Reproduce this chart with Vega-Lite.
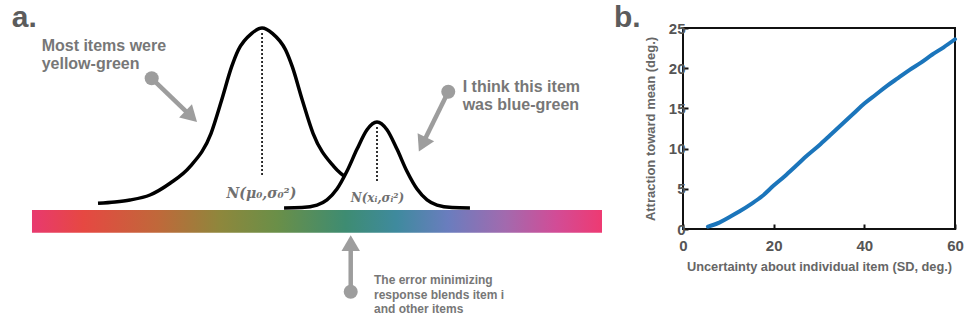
{
  "$schema": "https://vega.github.io/schema/vega-lite/v6.json",
  "padding": {"left": 0, "right": 0, "top": 3, "bottom": 0},
  "spacing": 2,
  "bounds": "full",
  "background": "white",
  "config": {"font": "Liberation Sans"},
  "datasets": {
    "big": [
      {"u": 41.7, "y": 6.7}, {"u": 52.4, "y": 8}, {"u": 61.9, "y": 10}, {"u": 74.5, "y": 15},
      {"u": 87.2, "y": 26.7}, {"u": 99.8, "y": 43.3}, {"u": 113.1, "y": 76.7}, {"u": 119.8, "y": 110},
      {"u": 126.1, "y": 143.3}, {"u": 130.3, "y": 160}, {"u": 138.8, "y": 176.7}, {"u": 145.3, "y": 182},
      {"u": 151.8, "y": 176.7}, {"u": 160.2, "y": 160}, {"u": 164.4, "y": 143.3}, {"u": 170.7, "y": 110},
      {"u": 177.5, "y": 76.7}, {"u": 190.7, "y": 43.3}, {"u": 203.4, "y": 26.7}, {"u": 216.0, "y": 15},
      {"u": 228.6, "y": 10}, {"u": 238.1, "y": 8}, {"u": 248.8, "y": 6.7}
    ],
    "small": [
      {"u": 159.2, "y": 2.0}, {"u": 170.5, "y": 2.4}, {"u": 180.0, "y": 4.9}, {"u": 186.3, "y": 10.1},
      {"u": 192.6, "y": 20.9}, {"u": 198.9, "y": 38.7}, {"u": 205.3, "y": 60.9}, {"u": 211.6, "y": 80.3},
      {"u": 217.9, "y": 88}, {"u": 224.2, "y": 80.3}, {"u": 230.5, "y": 60.9}, {"u": 236.8, "y": 38.7},
      {"u": 243.2, "y": 20.9}, {"u": 249.5, "y": 10.1}, {"u": 255.8, "y": 4.9}, {"u": 265.3, "y": 2.4},
      {"u": 276.6, "y": 2.0}
    ],
    "peaks": [
      {"u": 145.3, "y": 177, "y2": 33},
      {"u": 217.9, "y": 83, "y2": 28}
    ],
    "arrows": [
      {"id": "a1", "u": 75.6, "y": 131.7, "u2": 99.4, "y2": 95.4},
      {"id": "a2", "u": 262.9, "y": 118.3, "u2": 247.3, "y2": 68},
      {"id": "a3", "u": 201.3, "y": -81.7, "u2": 201.3, "y2": -35.8}
    ],
    "bar": [{"u": 0, "u2": 360, "y": 0, "y2": -22.7}],
    "labels": [
      {"id": "a", "u": -12.8, "y": 183, "text": "a."},
      {"id": "b", "u": 367.6, "y": 183, "text": "b."},
      {"id": "most", "u": 6.1, "y": 159.3, "text": "Most items were\nyellow-green"},
      {"id": "think", "u": 272.0, "y": 118.3, "text": "I think this item\nwas blue-green"},
      {"id": "error", "u": 216.0, "y": -74, "text": "The error minimizing\nresponse blends item i\nand other items"},
      {"id": "n0", "u": 144.9, "y": 12, "text": "N(μ₀,σ₀²)"},
      {"id": "ni", "u": 218.2, "y": 8, "text": "N(xᵢ,σᵢ²)"}
    ],
    "attraction": [
      {"sd": 5.5, "att": 0.3}, {"sd": 8, "att": 0.8}, {"sd": 10, "att": 1.4}, {"sd": 12.5, "att": 2.2},
      {"sd": 15, "att": 3.1}, {"sd": 17.5, "att": 4.1}, {"sd": 20, "att": 5.4}, {"sd": 22.5, "att": 6.6},
      {"sd": 25, "att": 7.9}, {"sd": 27.5, "att": 9.2}, {"sd": 30, "att": 10.4}, {"sd": 32.5, "att": 11.7},
      {"sd": 35, "att": 13.0}, {"sd": 37.5, "att": 14.3}, {"sd": 40, "att": 15.6}, {"sd": 42.5, "att": 16.7},
      {"sd": 45, "att": 17.8}, {"sd": 47.5, "att": 18.8}, {"sd": 50, "att": 19.8}, {"sd": 52.5, "att": 20.7},
      {"sd": 55, "att": 21.7}, {"sd": 57.5, "att": 22.6}, {"sd": 60, "att": 23.6}
    ]
  },
  "hconcat": [
    {
      "width": 640,
      "height": 294,
      "view": {"stroke": null},
      "encoding": {
        "x": {"field": "u", "type": "quantitative", "scale": {"domain": [-20.2, 384.0], "nice": false, "zero": false}, "axis": null},
        "y": {"field": "y", "type": "quantitative", "scale": {"domain": [-112, 182], "nice": false, "zero": false}, "axis": null}
      },
      "layer": [
        {
          "data": {"name": "bar"},
          "mark": {"type": "rect", "color": {"gradient": "linear", "x1": 0, "x2": 1, "y1": 0, "y2": 0, "stops": [
            {"offset": 0, "color": "#e8396f"},
            {"offset": 0.09, "color": "#e64842"},
            {"offset": 0.22, "color": "#c0683a"},
            {"offset": 0.33, "color": "#8e873c"},
            {"offset": 0.43, "color": "#6a8f48"},
            {"offset": 0.55, "color": "#3e8c72"},
            {"offset": 0.64, "color": "#3f8a9e"},
            {"offset": 0.73, "color": "#6a7dbe"},
            {"offset": 0.83, "color": "#a26aae"},
            {"offset": 0.92, "color": "#d24c96"},
            {"offset": 1, "color": "#ee3a72"}
          ]}},
          "encoding": {"x2": {"field": "u2"}, "y2": {"field": "y2"}}
        },
        {
          "data": {"name": "big"},
          "mark": {"type": "line", "color": "black", "strokeWidth": 3.5, "interpolate": "monotone"},
          "encoding": {"order": {"field": "u"}}
        },
        {
          "data": {"name": "small"},
          "mark": {"type": "area", "color": "white", "interpolate": "monotone"},
          "encoding": {"y2": {"datum": 0}}
        },
        {
          "data": {"name": "small"},
          "mark": {"type": "line", "color": "black", "strokeWidth": 3.5, "interpolate": "monotone"},
          "encoding": {"order": {"field": "u"}}
        },
        {
          "data": {"name": "peaks"},
          "mark": {"type": "rule", "color": "black", "strokeWidth": 1.6, "strokeDash": [2, 2]},
          "encoding": {"y2": {"field": "y2"}}
        },
        {
          "data": {"name": "arrows"},
          "mark": {"type": "rule", "color": "#9d9d9d", "strokeWidth": 4.5},
          "encoding": {"x2": {"field": "u2"}, "y2": {"field": "y2"}}
        },
        {
          "data": {"name": "arrows"},
          "mark": {"type": "point", "shape": "circle", "filled": true, "color": "#9d9d9d", "size": 196, "opacity": 1},
          "encoding": {}
        },
        {
          "data": {"name": "arrows"},
          "transform": [{"filter": "datum.id == 'a1'"}],
          "mark": {"type": "point", "shape": "triangle", "filled": true, "color": "#9d9d9d", "size": 340, "angle": 134, "opacity": 1},
          "encoding": {"x": {"field": "u2", "type": "quantitative"}, "y": {"field": "y2", "type": "quantitative"}}
        },
        {
          "data": {"name": "arrows"},
          "transform": [{"filter": "datum.id == 'a2'"}],
          "mark": {"type": "point", "shape": "triangle", "filled": true, "color": "#9d9d9d", "size": 340, "angle": 206, "opacity": 1},
          "encoding": {"x": {"field": "u2", "type": "quantitative"}, "y": {"field": "y2", "type": "quantitative"}}
        },
        {
          "data": {"name": "arrows"},
          "transform": [{"filter": "datum.id == 'a3'"}],
          "mark": {"type": "point", "shape": "triangle", "filled": true, "color": "#9d9d9d", "size": 340, "angle": 0, "opacity": 1},
          "encoding": {"x": {"field": "u2", "type": "quantitative"}, "y": {"field": "y2", "type": "quantitative"}}
        },
        {
          "data": {"name": "labels"},
          "transform": [{"filter": "datum.id == 'a' || datum.id == 'b'"}],
          "mark": {"type": "text", "align": "left", "baseline": "alphabetic", "fontSize": 30, "fontWeight": "bold", "color": "#5c5c5c"},
          "encoding": {"text": {"field": "text"}}
        },
        {
          "data": {"name": "labels"},
          "transform": [{"filter": "datum.id == 'most' || datum.id == 'think'"}],
          "mark": {"type": "text", "align": "left", "baseline": "alphabetic", "fontSize": 16, "fontWeight": "bold", "color": "#777777", "lineBreak": "\n", "lineHeight": 18.5},
          "encoding": {"text": {"field": "text"}}
        },
        {
          "data": {"name": "labels"},
          "transform": [{"filter": "datum.id == 'error'"}],
          "mark": {"type": "text", "align": "left", "baseline": "alphabetic", "fontSize": 12, "fontWeight": "bold", "color": "#777777", "lineBreak": "\n", "lineHeight": 14.7},
          "encoding": {"text": {"field": "text"}}
        },
        {
          "data": {"name": "labels"},
          "transform": [{"filter": "datum.id == 'n0'"}],
          "mark": {"type": "text", "align": "center", "baseline": "alphabetic", "fontSize": 14, "font": "DejaVu Serif", "fontStyle": "italic", "fontWeight": "bold", "color": "#707070"},
          "encoding": {"text": {"field": "text"}}
        },
        {
          "data": {"name": "labels"},
          "transform": [{"filter": "datum.id == 'ni'"}],
          "mark": {"type": "text", "align": "center", "baseline": "alphabetic", "fontSize": 12, "font": "DejaVu Serif", "fontStyle": "italic", "fontWeight": "bold", "color": "#707070"},
          "encoding": {"text": {"field": "text"}}
        }
      ]
    },
    {
      "width": 272,
      "height": 201,
      "view": {"stroke": "#111111", "strokeWidth": 2},
      "data": {"name": "attraction"},
      "mark": {"type": "line", "color": "#1b75bb", "strokeWidth": 4, "strokeCap": "round", "interpolate": "monotone"},
      "encoding": {
        "x": {
          "field": "sd", "type": "quantitative",
          "scale": {"domain": [0, 60], "nice": false},
          "axis": {"values": [0, 20, 40, 60], "title": "Uncertainty about individual item (SD, deg.)", "grid": false, "domain": false,
            "tickSize": -5, "tickWidth": 2, "tickColor": "#111111", "labelPadding": 14, "labelFontSize": 15, "labelFontWeight": "bold", "labelColor": "#555555",
            "titleFontSize": 12.8, "titleFontWeight": "bold", "titleColor": "#666666", "titlePadding": 7, "labelFlush": false}
        },
        "y": {
          "field": "att", "type": "quantitative",
          "scale": {"domain": [0, 25], "nice": false},
          "axis": {"values": [0, 5, 10, 15, 20, 25], "title": "Attraction toward mean (deg.)", "grid": false, "domain": false,
            "tickSize": -5, "tickWidth": 2, "tickColor": "#111111", "labelPadding": 3, "labelFontSize": 15, "labelFontWeight": "bold", "labelColor": "#555555",
            "titleFontSize": 13, "titleFontWeight": "bold", "titleColor": "#666666", "titlePadding": 11, "labelFlush": false}
        }
      }
    }
  ]
}
